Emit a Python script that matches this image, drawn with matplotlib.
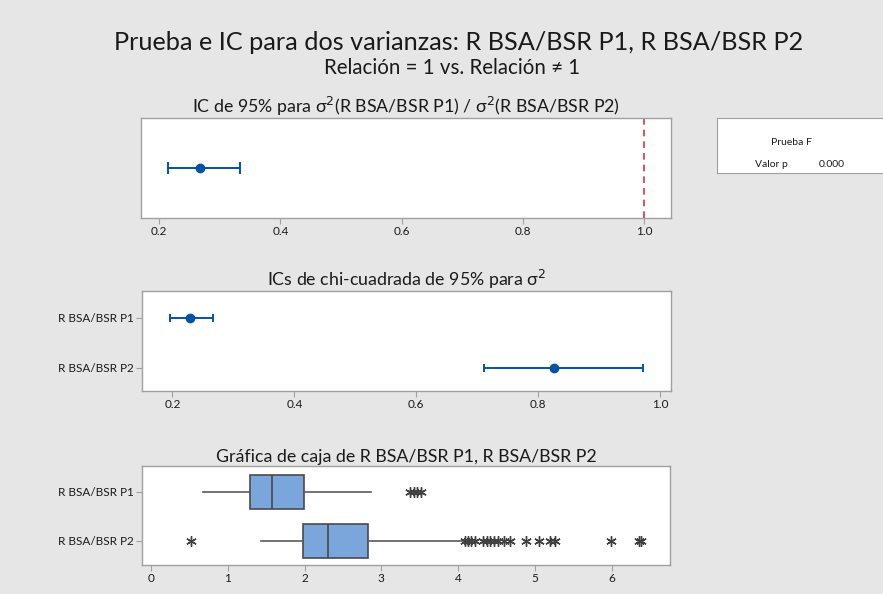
import matplotlib
matplotlib.use("Agg")
import matplotlib.pyplot as plt
import numpy as np

plt.rcParams['font.family'] = ['Lato', 'DejaVu Sans']

# ---- data ----
series = ["R BSA/BSR P1", "R BSA/BSR P2"]
ratio_est = 0.268
ratio_ci = (0.215, 0.334)
ratio_ticks = [0.2, 0.4, 0.6, 0.8, 1.0]

chi_est = [0.229, 0.826]
chi_lo = [0.196, 0.711]
chi_hi = [0.267, 0.972]
chi_ticks = [0.2, 0.4, 0.6, 0.8, 1.0]

# box stats: whislo, q1, med, q3, whishi
box_whislo = [0.68, 1.43]
box_q1 = [1.285, 1.98]
box_med = [1.57, 2.31]
box_q3 = [1.995, 2.83]
box_whishi = [2.86, 4.07]
outliers_p1 = [3.37, 3.42, 3.47, 3.52]
outliers_p2 = [0.52, 4.09, 4.13, 4.17, 4.22, 4.33, 4.38, 4.42, 4.47, 4.52,
               4.60, 4.68, 4.88, 5.05, 5.20, 5.26, 5.99, 6.36, 6.38]
box_ticks = [0, 1, 2, 3, 4, 5, 6]

p_value_text = "0.000"

# ---- style ----
BG = "#e6e6e6"
BLUE = "#0054a6"
SPINE = "#a0a0a0"
TXT = "#1a1a1a"
W, H = 883, 594

fig = plt.figure(figsize=(W / 100, H / 100), dpi=100, facecolor=BG)


def ax_at(x0, y0, x1, y1):
    return fig.add_axes([x0 / W, 1 - y1 / H, (x1 - x0) / W, (y1 - y0) / H])


def style(ax):
    ax.set_facecolor("white")
    for s in ax.spines.values():
        s.set_color(SPINE)
        s.set_linewidth(1.0)
    ax.tick_params(axis="both", colors=SPINE, labelcolor=TXT, labelsize=8.5,
                   length=4, width=0.8, pad=2)


fig.text(459 / W, 1 - 42 / H, "Prueba e IC para dos varianzas: R BSA/BSR P1, R BSA/BSR P2",
         ha="center", va="center", fontsize=18.2, color=TXT)
fig.text(452 / W, 1 - 68 / H, "Relación = 1 vs. Relación ≠ 1",
         ha="center", va="center", fontsize=14.8, color=TXT)

PT = 12.8

# Panel 1
ax1 = ax_at(141, 118, 671, 218)
style(ax1)
ax1.errorbar([ratio_est], [0], xerr=[[ratio_est - ratio_ci[0]], [ratio_ci[1] - ratio_est]],
             fmt="o", color=BLUE, ms=6, capsize=4, elinewidth=1.4, capthick=1.4)
ax1.axvline(1.0, color="#d9363e", ls=(0, (4, 3)), lw=1.2)
ax1.set_xlim(0.170, 1.044)
ax1.set_ylim(-1, 1)
ax1.set_yticks([])
ax1.set_xticks(ratio_ticks)
ax1.set_xticklabels([f"{t:.1f}" for t in ratio_ticks])
ax1.set_title("IC de 95% para σ$^2$(R BSA/BSR P1) / σ$^2$(R BSA/BSR P2)",
              fontsize=PT, color=TXT, pad=3)

# Legend box
axl = ax_at(717, 118, 900, 173)
axl.set_facecolor("white")
for s in axl.spines.values():
    s.set_color(SPINE)
axl.set_xticks([])
axl.set_yticks([])
axl.set_xlim(0, 1)
axl.set_ylim(0, 1)
axl.text((791 - 717) / 183, 1 - (142 - 118) / 55, "Prueba F", ha="center", va="center",
         fontsize=7.5, color=TXT)
axl.text((755 - 717) / 183, 1 - (164 - 118) / 55, "Valor p", ha="left", va="center",
         fontsize=7.5, color=TXT)
axl.text((819 - 717) / 183, 1 - (164 - 118) / 55, p_value_text, ha="left", va="center",
         fontsize=7.5, color=TXT)

# Panel 2
ax2 = ax_at(142, 291, 671, 391)
style(ax2)
ypos = np.arange(len(series))
ax2.errorbar(chi_est, ypos,
             xerr=[np.array(chi_est) - np.array(chi_lo), np.array(chi_hi) - np.array(chi_est)],
             fmt="o", color=BLUE, ms=6, capsize=3, elinewidth=1.4, capthick=1.4, ls="none")
ax2.set_xlim(0.150, 1.018)
ax2.set_ylim(1.46, -0.54)
ax2.set_yticks(ypos)
ax2.set_yticklabels(series)
ax2.set_xticks(chi_ticks)
ax2.set_xticklabels([f"{t:.1f}" for t in chi_ticks])
ax2.set_title("ICs de chi-cuadrada de 95% para σ$^2$", fontsize=PT, color=TXT, pad=3)

# Panel 3
ax3 = ax_at(142, 466, 670, 565)
style(ax3)
stats = []
outs = [outliers_p1, outliers_p2]
for i in range(len(series)):
    stats.append(dict(whislo=box_whislo[i], q1=box_q1[i], med=box_med[i], q3=box_q3[i],
                      whishi=box_whishi[i], fliers=outs[i], label=series[i]))
ax3.bxp(stats, positions=ypos, orientation="horizontal", widths=0.7, patch_artist=True,
        showcaps=False,
        boxprops=dict(facecolor="#7ba6db", edgecolor="#4a4a4a", linewidth=1.2),
        medianprops=dict(color="#4a4a4a", linewidth=1.2),
        whiskerprops=dict(color="#5a5a5a", linewidth=1.2),
        flierprops=dict(marker=(6, 2, 0), markersize=7.5, markeredgecolor="#404040",
                        markerfacecolor="#404040", markeredgewidth=1.0, linestyle="none"))
ax3.set_xlim(-0.117, 6.76)
ax3.set_ylim(1.49, -0.53)
ax3.set_yticks(ypos)
ax3.set_yticklabels(series)
ax3.set_xticks(box_ticks)
ax3.set_xticklabels([str(t) for t in box_ticks])
ax3.set_title("Gráfica de caja de R BSA/BSR P1, R BSA/BSR P2", fontsize=PT, color=TXT, pad=3)

fig.savefig("out.png", dpi=100, facecolor=BG)
